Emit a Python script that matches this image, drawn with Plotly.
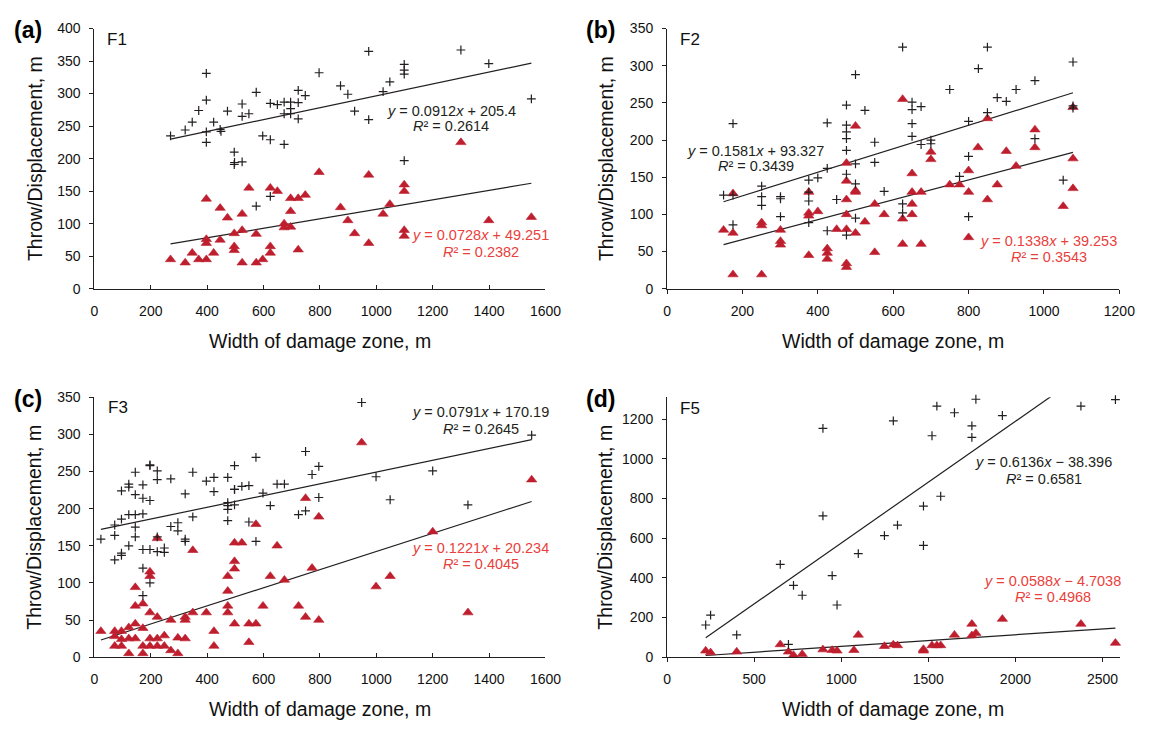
import plotly.graph_objects as go

W, H = 1156, 730

# ---------------- data ----------------
# Panel (a) F1
a_cross_x = [270, 322, 347, 370, 397, 397, 397, 397, 423, 446, 449, 472, 496, 496, 497, 524, 524, 524, 548, 574, 574,
             597, 624, 624, 624, 649, 673, 673, 673, 696, 696, 696, 723, 723, 723, 748, 797, 873, 899, 923, 973, 973,
             1024, 1048, 1099, 1099, 1099, 1099, 1300, 1399, 1550]
a_cross_y = [235, 244, 256, 274, 331, 290, 241, 225, 256, 245, 242, 273, 210, 191, 194, 195, 284, 265, 269, 302, 127,
             235, 285, 229, 142, 283, 287, 269, 222, 287, 277, 269, 305, 286, 261, 297, 332, 312, 299, 273, 365, 260,
             303, 318, 345, 336, 330, 197, 367, 346, 292]
a_tri_x = [270, 322, 347, 370, 397, 397, 397, 397, 423, 446, 446, 472, 496, 496, 496, 524, 524, 524, 548, 574, 574,
           597, 624, 624, 624, 649, 673, 673, 696, 696, 696, 723, 723, 748, 797, 873, 899, 923, 973, 973, 1024, 1048,
           1099, 1099, 1099, 1099, 1300, 1399, 1550]
a_tri_y = [45, 40, 55, 45, 45, 138, 76, 70, 55, 124, 75, 109, 85, 65, 59, 115, 90, 40, 155, 84, 40,
           45, 155, 65, 55, 150, 100, 94, 139, 119, 95, 139, 60, 144, 179, 125, 105, 85, 175, 70, 115, 130,
           160, 150, 90, 81, 225, 105, 110]

# Panel (b) F2
b_cross_x = [150, 175, 175, 175, 251, 251, 251, 301, 301, 301, 376, 376, 376, 376, 400, 425, 425, 425, 450, 476, 476,
             476, 476, 476, 476, 476, 500, 500, 500, 500, 525, 551, 551, 576, 625, 650, 650, 650, 650, 674, 674, 700,
             700, 625, 625, 750, 776, 800, 800, 800, 826, 850, 850, 876, 900, 926, 976, 976, 1051, 1077, 1077, 1077]
b_cross_y = [126, 222, 126, 86, 138, 124, 112, 124, 121, 97, 146, 130, 118, 89, 149, 223, 162, 78, 120, 247, 220,
             211, 202, 186, 154, 72, 288, 168, 141, 95, 240, 197, 170, 131, 325, 251, 241, 222, 205, 245, 194, 200,
             195, 114, 102, 268, 151, 225, 178, 97, 296, 325, 237, 257, 252, 268, 280, 202, 146, 305, 246, 243]
b_tri_x = [150, 175, 175, 175, 251, 251, 251, 301, 301, 301, 376, 376, 376, 376, 400, 425, 425, 425, 450, 476, 476,
           476, 476, 476, 476, 476, 500, 500, 500, 500, 525, 551, 551, 576, 625, 625, 625, 650, 650, 650, 650, 674,
           674, 700, 700, 750, 776, 800, 800, 800, 825, 850, 850, 876, 900, 926, 976, 976, 1051, 1077, 1077, 1077]
b_tri_y = [79, 128, 75, 19, 89, 85, 19, 79, 64, 59, 130, 102, 98, 45, 104, 54, 48, 40, 80, 169, 145,
           120, 100, 80, 34, 29, 219, 132, 130, 75, 90, 114, 49, 100, 255, 94, 60, 155, 130, 114, 100, 130,
           60, 184, 174, 140, 140, 159, 130, 69, 190, 229, 120, 140, 185, 165, 214, 190, 111, 244, 175, 135]

# Panel (c) F3
c_cross_x = [23, 72, 72, 72, 96, 96, 96, 96, 122, 122, 122, 122, 145, 145, 145, 145, 145, 172, 172, 172, 172, 172,
             172, 197, 197, 197, 197, 197, 223, 223, 223, 223, 248, 248, 271, 271, 296, 296, 322, 322, 322, 349, 349,
             397, 424, 424, 473, 473, 473, 473, 473, 497, 497, 497, 497, 523, 548, 548, 573, 573, 598, 624, 648, 674,
             724, 749, 749, 772, 796, 796, 948, 999, 1049, 1200, 1325, 1551]
c_cross_y = [159, 178, 164, 131, 186, 140, 137, 224, 233, 229, 192, 150, 249, 219, 192, 175, 162, 232, 214, 193, 145,
             120, 83, 259, 258, 211, 145, 100, 251, 239, 162, 142, 147, 141, 240, 176, 181, 170, 220, 159, 156, 249,
             189, 237, 242, 223, 242, 208, 204, 199, 184, 258, 226, 226, 205, 230, 231, 182, 269, 156, 221, 204, 233,
             233, 192, 277, 197, 246, 257, 215, 343, 243, 212, 251, 205, 299]
c_tri_x = [23, 72, 72, 72, 96, 96, 96, 122, 122, 122, 145, 145, 145, 145, 172, 172, 172, 172, 197, 197, 197, 197,
           197, 223, 223, 223, 223, 248, 248, 271, 271, 296, 296, 322, 322, 322, 349, 349, 397, 424, 424, 473, 473,
           473, 473, 497, 497, 497, 497, 523, 548, 548, 573, 573, 598, 624, 648, 674, 724, 749, 749, 772, 796, 796,
           948, 999, 1049, 1200, 1325, 1551]
c_tri_y = [35, 35, 28, 15, 35, 24, 15, 40, 25, 5, 94, 69, 45, 25, 72, 39, 15, 5, 115, 109, 60, 25,
           15, 160, 54, 25, 15, 29, 15, 50, 9, 26, 5, 54, 50, 25, 144, 60, 60, 35, 15, 109, 89,
           69, 60, 154, 129, 119, 45, 154, 45, 20, 179, 45, 69, 109, 150, 104, 69, 214, 54, 120, 189, 50,
           289, 95, 109, 169, 60, 239]

# Panel (d) F5
d_cross_x = [222, 250, 400, 650, 697, 726, 776, 895, 895, 948, 976, 1098, 1248, 1299, 1323, 1472, 1472, 1521, 1549,
             1571, 1650, 1750, 1750, 1773, 1925, 2376, 2574]
d_cross_y = [162, 212, 112, 468, 64, 362, 312, 1153, 712, 411, 263, 522, 613, 1191, 666, 761, 563, 1116, 1265,
             811, 1232, 1166, 1108, 1300, 1218, 1265, 1298]
d_tri_x = [222, 250, 400, 650, 697, 726, 776, 895, 948, 976, 1073, 1098, 1248, 1299, 1323, 1472, 1472, 1521, 1549,
           1571, 1650, 1750, 1750, 1773, 1925, 2376, 2574]
d_tri_y = [32, 23, 27, 64, 27, 10, 15, 38, 35, 32, 35, 112, 55, 63, 59, 40, 32, 59, 59,
           59, 112, 167, 109, 121, 192, 167, 71]

# trendline coefficients (slope, intercept) and labels: [cross series, triangle series]
a_fit = [(0.0912, 205.4), (0.0728, 49.251)]
b_fit = [(0.1581, 93.327), (0.1338, 39.253)]
c_fit = [(0.0791, 170.19), (0.1221, 20.234)]
d_fit = [(0.6136, -38.396), (0.0588, -4.7038)]
a_eq = ["<i>y</i> = 0.0912<i>x</i> + 205.4", "<i>R</i>² = 0.2614", "<i>y</i> = 0.0728<i>x</i> + 49.251", "<i>R</i>² = 0.2382"]
b_eq = ["<i>y</i> = 0.1581<i>x</i> + 93.327", "<i>R</i>² = 0.3439", "<i>y</i> = 0.1338<i>x</i> + 39.253", "<i>R</i>² = 0.3543"]
c_eq = ["<i>y</i> = 0.0791<i>x</i> + 170.19", "<i>R</i>² = 0.2645", "<i>y</i> = 0.1221<i>x</i> + 20.234", "<i>R</i>² = 0.4045"]
d_eq = ["<i>y</i> = 0.6136<i>x</i> − 38.396", "<i>R</i>² = 0.6581", "<i>y</i> = 0.0588<i>x</i> − 4.7038", "<i>R</i>² = 0.4968"]

panel_letters = ["(a)", "(b)", "(c)", "(d)"]
panel_names = ["F1", "F2", "F3", "F5"]
x_title = "Width of damage zone, m"
y_title = "Throw/Displacement, m"

# ---------------- styling ----------------
FONT = "Liberation Sans, Arial, sans-serif"
RED = "#BE1E2D"
RED_TXT = "#E8413C"
AX = "#231F20"

def px(x):
    return x / W

def py(y):
    return 1 - y / H

# panel geometry in pixels: (left, right, top, bottom)
geo = [
    (92, 551, 21, 287),
    (674.7, 1135, 21, 287),
    (92, 551, 398, 663.7),
    (674.7, 1135.6, 398, 663.7),
]
xranges = [[0, 1600], [0, 1200], [0, 1600], [0, 2600]]
yranges = [[0, 400], [0, 350], [0, 350], [0, 1310]]
xdt = [200, 200, 200, 500]
ydt = [50, 50, 50, 200]
xtickdir = ["inside", "outside", "inside", "outside"]

panels = [
    (a_cross_x, a_cross_y, a_tri_x, a_tri_y, a_fit, a_eq),
    (b_cross_x, b_cross_y, b_tri_x, b_tri_y, b_fit, b_eq),
    (c_cross_x, c_cross_y, c_tri_x, c_tri_y, c_fit, c_eq),
    (d_cross_x, d_cross_y, d_tri_x, d_tri_y, d_fit, d_eq),
]

# equation label centres (pixels): [eq1, r1, eq2, r2]
eq_pos = [
    [(455, 105), (455, 121), (485, 232), (485, 249)],
    [(765, 146), (765, 162), (1063, 238), (1063, 255)],
    [(485, 413), (485, 430), (485, 552), (485, 568)],
    [(1058, 464), (1058, 482), (1067, 586), (1067, 602)],
]
letter_pos = [(24, 23), (607, 23), (24, 400), (607, 400)]
name_pos = [(115, 32), (698, 32), (116, 408), (698, 409)]
ytitle_x = [31, 612, 31, 612]
xtitle_y = [340, 340, 717, 717]

fig = go.Figure()
annotations = []
layout = {}

for i, (cx, cy, tx, ty, fit, eq) in enumerate(panels):
    n = "" if i == 0 else str(i + 1)
    xa, ya = "x" + n, "y" + n
    l, r, t, b = geo[i]

    # trendlines
    for (slope, icpt), xs in zip(fit, (cx, tx)):
        x0, x1 = min(xs), max(xs)
        fig.add_trace(go.Scatter(x=[x0, x1], y=[slope * x0 + icpt, slope * x1 + icpt], mode="lines",
                                 line=dict(color=AX, width=1.2), xaxis=xa, yaxis=ya,
                                 showlegend=False, hoverinfo="skip"))
    fig.add_trace(go.Scatter(x=tx, y=ty, mode="markers", xaxis=xa, yaxis=ya, showlegend=False,
                             cliponaxis=False,
                             marker=dict(symbol="triangle-up", size=9, color=RED,
                                         line=dict(width=0.6, color=RED))))
    fig.add_trace(go.Scatter(x=cx, y=cy, mode="markers", xaxis=xa, yaxis=ya, showlegend=False,
                             cliponaxis=False,
                             marker=dict(symbol="cross-thin", size=6.3, color=AX,
                                         line=dict(width=1.2, color=AX))))

    layout["xaxis" + n] = dict(
        domain=[px(l), px(r)], range=xranges[i], anchor=ya, dtick=xdt[i], tick0=0,
        showgrid=False, zeroline=False, showline=True, linecolor=AX, linewidth=1,
        ticks=xtickdir[i], ticklen=4, tickcolor=AX, tickwidth=1,
        tickfont=dict(family=FONT, size=14, color="#111"), ticklabelstandoff=5 if xtickdir[i] == "outside" else 9,
        fixedrange=True)
    layout["yaxis" + n] = dict(
        domain=[py(b), py(t)], range=yranges[i], anchor=xa, dtick=ydt[i], tick0=0,
        showgrid=False, zeroline=False, showline=True, linecolor=AX, linewidth=1,
        ticks="outside", ticklen=4, tickcolor=AX, tickwidth=1,
        tickfont=dict(family=FONT, size=14, color="#111"), ticklabelstandoff=6,
        fixedrange=True)

    # equation labels
    for k, (txt, (ex, ey)) in enumerate(zip(eq, eq_pos[i])):
        annotations.append(dict(text=txt, x=px(ex), y=py(ey), xref="paper", yref="paper",
                                xanchor="center", yanchor="middle", showarrow=False,
                                font=dict(family=FONT, size=14.5, color=AX if k < 2 else RED_TXT)))
    # panel letter and name
    annotations.append(dict(text="<b>" + panel_letters[i] + "</b>", x=px(letter_pos[i][0]), y=py(letter_pos[i][1]),
                            xref="paper", yref="paper", xanchor="center", yanchor="middle", showarrow=False,
                            font=dict(family=FONT, size=23, color="#000")))
    annotations.append(dict(text=panel_names[i], x=px(name_pos[i][0]), y=py(name_pos[i][1]),
                            xref="paper", yref="paper", xanchor="center", yanchor="middle", showarrow=False,
                            font=dict(family=FONT, size=17, color="#111")))
    # axis titles
    annotations.append(dict(text=x_title, x=px((l + r) / 2), y=py(xtitle_y[i]), xref="paper", yref="paper",
                            xanchor="center", yanchor="middle", showarrow=False,
                            font=dict(family=FONT, size=19.5, color="#111")))
    annotations.append(dict(text=y_title, x=px(ytitle_x[i]), y=py((t + b) / 2), xref="paper", yref="paper",
                            xanchor="center", yanchor="middle", showarrow=False, textangle=-90,
                            font=dict(family=FONT, size=19.5, color="#111")))

fig.update_layout(width=W, height=H, margin=dict(l=0, r=0, t=0, b=0, pad=0),
                  paper_bgcolor="white", plot_bgcolor="white", annotations=annotations, **layout)

fig.write_html("out.html")
